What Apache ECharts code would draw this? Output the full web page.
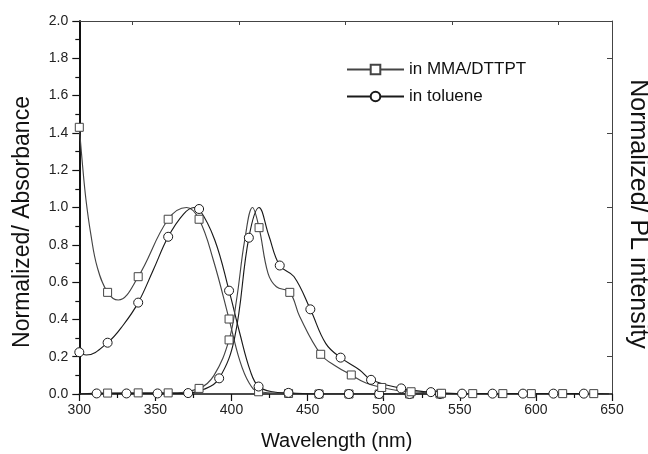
<!DOCTYPE html>
<html>
<head>
<meta charset="utf-8">
<script src="https://cdn.jsdelivr.net/npm/echarts@6/dist/echarts.min.js"></script>
<style>
html,body{margin:0;padding:0;background:#fff;}
#chart{width:648px;height:454px;}
</style>
</head>
<body>
<div id="chart"></div>
<script>
// ---- data ----
const xTicks = [300, 350, 400, 450, 500, 550, 600, 650];
const yTicks = [0.0, 0.2, 0.4, 0.6, 0.8, 1.0, 1.2, 1.4, 1.6, 1.8, 2.0];
const legendNames = ['in MMA/DTTPT', 'in toluene'];

// Absorption, MMA/DTTPT (squares)
const absMmaMarkWl  = [300, 318.6, 338.7, 358.4, 378.7, 398.4, 417.8, 437.5, 457.5, 477.2, 497, 517, 537];
const absMmaMarkVal = [1.43, 0.545, 0.629, 0.937, 0.937, 0.402, 0.012, 0.003, 0, 0, 0, 0, 0];
const absMmaWl  = [302.2, 304.4, 307.5, 311.8, 325.6, 370.5, 388, 405.4, 411.5];
const absMmaVal = [1.22, 1.04, 0.86, 0.68, 0.504, 1.0, 0.72, 0.18, 0.06];

// Absorption, toluene (circles)
const absTolMarkWl  = [300, 318.6, 338.7, 358.4, 378.7, 398.4, 417.8, 437.4, 457.5, 477.1, 497, 517, 537];
const absTolMarkVal = [0.224, 0.275, 0.49, 0.843, 0.992, 0.554, 0.04, 0.006, 0, 0, 0, 0, 0];
const absTolWl  = [304.5, 328.9, 348.6, 368.5, 375.5, 389, 405.4, 412.5, 427];
const absTolVal = [0.209, 0.37, 0.665, 0.965, 1.0, 0.826, 0.327, 0.12, 0.012];

// PL, MMA/DTTPT (squares)
const plMmaMarkWl  = [318.6, 338.7, 358.4, 378.7, 398.4, 418.1, 438.3, 458.6, 478.7, 498.7, 518, 538, 558.5, 578.3, 597, 617.6, 638];
const plMmaMarkVal = [0.005, 0.006, 0.006, 0.03, 0.29, 0.892, 0.545, 0.213, 0.102, 0.035, 0.012, 0.004, 0.002, 0.002, 0.002, 0.002, 0.002];
const plMmaWl  = [300, 388.5, 403.3, 408.7, 413.8, 424, 429.5, 444.8, 468.9, 488, 508, 648];
const plMmaVal = [0.0, 0.1, 0.504, 0.826, 1.0, 0.647, 0.575, 0.415, 0.147, 0.06, 0.02, 0.0];

// PL, toluene (circles)
const plTolMarkWl  = [311.4, 331, 351.4, 371.5, 391.9, 411.4, 431.7, 451.8, 471.7, 491.7, 511.5, 531, 551.5, 571.5, 591.5, 611.5, 631.5];
const plTolMarkVal = [0.003, 0.003, 0.003, 0.005, 0.084, 0.838, 0.689, 0.454, 0.195, 0.076, 0.03, 0.01, 0.002, 0.002, 0.002, 0.002, 0.002];
const plTolWl  = [300, 382, 402, 418.1, 424.5, 441, 462, 484.2, 521, 648];
const plTolVal = [0.0, 0.025, 0.3, 1.0, 0.85, 0.63, 0.27, 0.129, 0.018, 0.0];

const topTicks = [335, 405, 475, 545, 615];
const rightTicks = [0.2, 0.6, 1.0, 1.4, 1.8];

// ---- build ----
function buildData(markWl, markVal, wl, val, sym) {
  const pts = [];
  markWl.forEach((w, i) => pts.push({ value: [w, markVal[i]], symbol: sym }));
  wl.forEach((w, i) => pts.push({ value: [w, val[i]], symbol: 'none' }));
  pts.sort((a, b) => a.value[0] - b.value[0]);
  return pts;
}

const FONT = 'Liberation Sans, Arial, sans-serif';
const mmaColor = '#444';
const tolColor = '#1a1a1a';

function mkSeries(name, data, color, sym, size, yIdx) {
  return {
    name: name, type: 'line', data: data, xAxisIndex: 0, yAxisIndex: yIdx,
    smooth: 0.4,
    symbol: sym, symbolSize: size, showSymbol: true, showAllSymbol: true,
    lineStyle: { color: color, width: 1.15 },
    itemStyle: { color: '#fff', borderColor: color, borderWidth: 1 },
    emphasis: { disabled: true },
    animation: false, z: 2
  };
}

const chart = echarts.init(document.getElementById('chart'), null, { renderer: 'canvas' });
chart.setOption({
  backgroundColor: '#fff',
  animation: false,
  textStyle: { fontFamily: FONT },
  grid: { left: 79.3, right: 36, top: 21, bottom: 60, containLabel: false, outerBoundsMode: 'none' },
  legend: {
    data: legendNames,
    orient: 'vertical', left: 341, top: 56,
    itemWidth: 57, itemHeight: 12, itemGap: 10,
    textStyle: { fontSize: 17, color: '#111', fontFamily: FONT },
    selectedMode: false
  },
  graphic: [{
    type: 'text', x: 23, y: 222, rotation: Math.PI / 2,
    style: { text: 'Normalized/ Absorbance', font: '23px Liberation Sans, Arial, sans-serif', fill: '#111', align: 'center', verticalAlign: 'middle' }
  }, {
    type: 'text', x: 638, y: 214, rotation: -Math.PI / 2,
    style: { text: 'Normalized/ PL intensity', font: '25px Liberation Sans, Arial, sans-serif', fill: '#111', align: 'center', verticalAlign: 'middle' }
  }],
  xAxis: [{
    type: 'value', position: 'bottom', min: xTicks[0], max: xTicks[xTicks.length - 1], interval: 50,
    axisLine: { show: true, onZero: false, lineStyle: { color: '#111', width: 1.5 } },
    axisTick: { show: true, inside: false, length: 7, lineStyle: { color: '#111', width: 1.2 } },
    minorTick: { show: true, splitNumber: 2, length: 4, lineStyle: { color: '#111', width: 1.2 } },
    splitLine: { show: false },
    axisLabel: { fontSize: 14, margin: 9, color: '#222', fontFamily: FONT },
    name: 'Wavelength (nm)', nameLocation: 'middle', nameGap: 37,
    nameTextStyle: { fontSize: 20, color: '#111', fontFamily: FONT, padding: [0, 18, 0, 0] }
  }, {
    type: 'value', position: 'top', min: xTicks[0], max: xTicks[xTicks.length - 1],
    axisLine: { show: true, onZero: false, lineStyle: { color: '#444', width: 1 } },
    axisTick: { show: true, inside: true, length: 4, customValues: topTicks, lineStyle: { color: '#444' } },
    axisLabel: { show: false }, splitLine: { show: false }
  }],
  yAxis: [{
    type: 'value', position: 'left', min: yTicks[0], max: yTicks[yTicks.length - 1], interval: 0.2,
    axisLine: { show: true, onZero: false, lineStyle: { color: '#111', width: 2 } },
    axisTick: { show: true, inside: false, length: 7, lineStyle: { color: '#111', width: 1.2 } },
    minorTick: { show: true, splitNumber: 2, length: 4, lineStyle: { color: '#111', width: 1.2 } },
    splitLine: { show: false },
    axisLabel: { fontSize: 14, margin: 11, color: '#222', fontFamily: FONT, formatter: v => v.toFixed(1) }
  }, {
    type: 'value', position: 'right', min: yTicks[0], max: yTicks[yTicks.length - 1],
    axisLine: { show: true, onZero: false, lineStyle: { color: '#444', width: 1 } },
    axisTick: { show: true, inside: true, length: 5, customValues: rightTicks, lineStyle: { color: '#444' } },
    axisLabel: { show: false }, splitLine: { show: false }
  }],
  series: [
    mkSeries(legendNames[0], buildData(absMmaMarkWl, absMmaMarkVal, absMmaWl, absMmaVal, 'rect'), mmaColor, 'rect', 8, 0),
    mkSeries(legendNames[1], buildData(absTolMarkWl, absTolMarkVal, absTolWl, absTolVal, 'circle'), tolColor, 'circle', 9, 0),
    mkSeries(legendNames[0], buildData(plMmaMarkWl, plMmaMarkVal, plMmaWl, plMmaVal, 'rect'), mmaColor, 'rect', 8, 1),
    mkSeries(legendNames[1], buildData(plTolMarkWl, plTolMarkVal, plTolWl, plTolVal, 'circle'), tolColor, 'circle', 9, 1)
  ]
});
</script>
</body>
</html>
